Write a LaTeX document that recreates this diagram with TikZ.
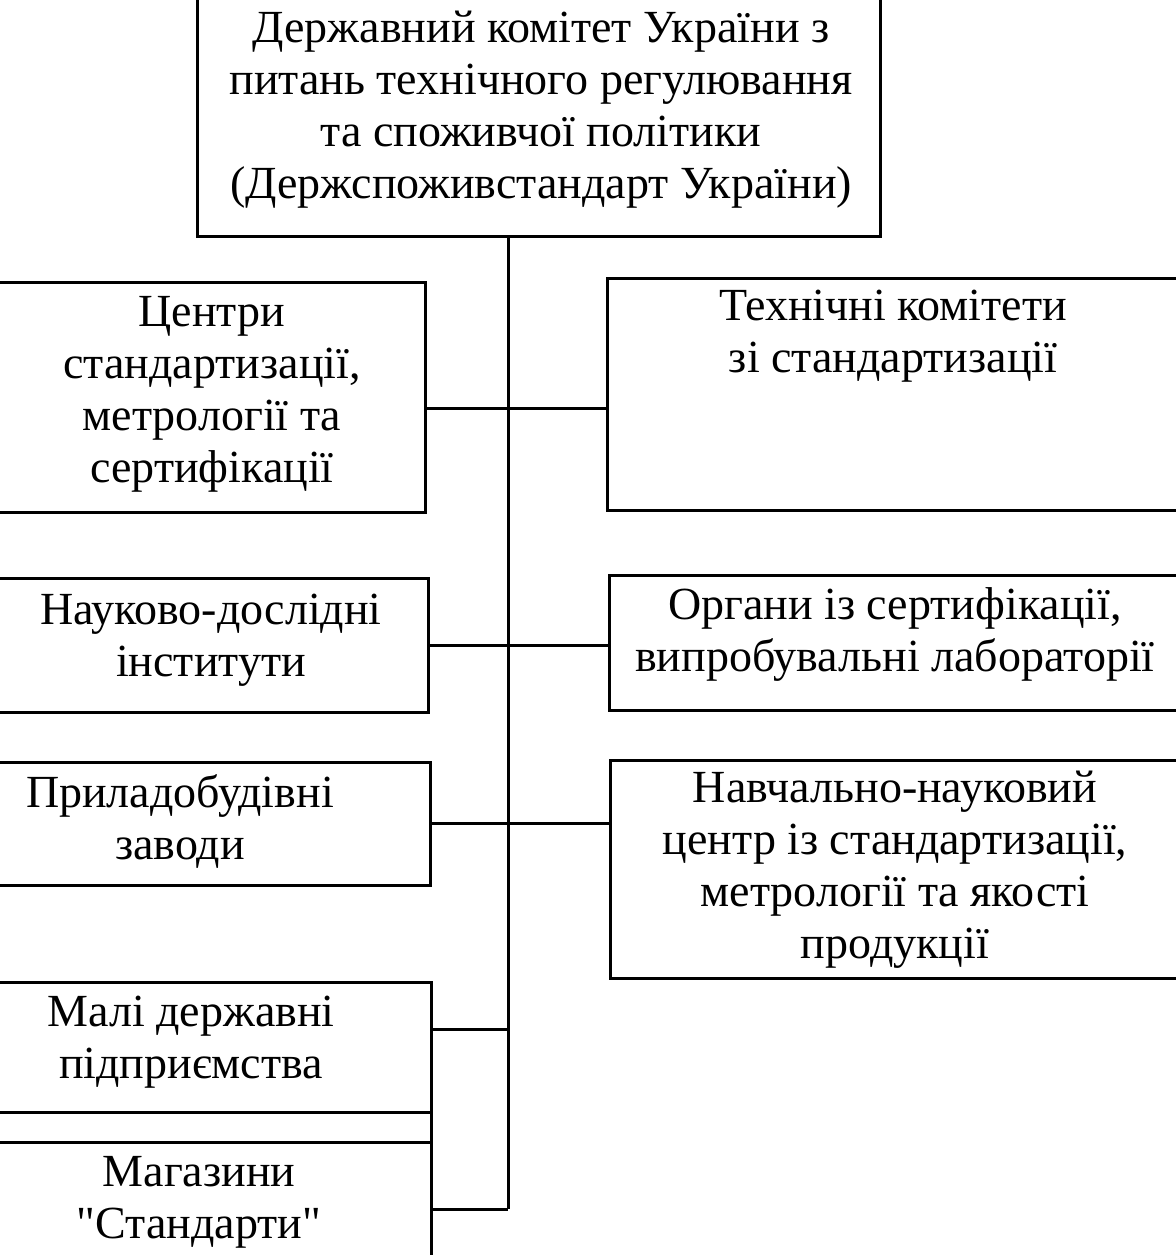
\documentclass[tikz,border=0pt]{standalone}
\usepackage{fontspec}
\setmainfont{Liberation Serif}[Ligatures=TeXOff]
\usepackage{tikz}
\usetikzlibrary{positioning}

\begin{document}
\begin{tikzpicture}[x=0.5pt, y=-0.5pt,
  unitbox/.style={draw, line width=1.5pt, inner sep=0pt, outer sep=0pt,
    anchor=north west},
  unittext/.style={align=center, inner sep=0pt,
    font=\fontsize{23}{26}\selectfont},
  link/.style={line width=1.5pt}]
  % Page frame (the scan cuts the outer boxes at the edges)
  \useasboundingbox (0,0) rectangle (1176,1255);

  % Head office
  \node[unitbox, minimum width=341.5pt, minimum height=119pt] (head) at (197,-2) {};
  \node[unittext] (headtxt) at (541,110)
    {Державний комітет України з\\питань технічного регулювання\\та споживчої політики\\(Держспоживстандарт України)};

  % Left column
  \node[unitbox, minimum width=215pt, minimum height=115pt] (centres) at (-5,282) {};
  \node[unittext] (centrestxt) at (212,394)
    {Центри\\стандартизації,\\метрології та\\сертифікації};

  \node[unitbox, minimum width=216.5pt, minimum height=67pt] (institutes) at (-5,578) {};
  \node[unittext] (institutestxt) at (211,640)
    {Науково-дослідні\\інститути};

  \node[unitbox, minimum width=217.5pt, minimum height=61.5pt] (plants) at (-5,762) {};
  \node[unittext] (plantstxt) at (180,821)
    {Приладобудівні\\заводи};

  \node[unitbox, minimum width=218pt, minimum height=65pt] (firms) at (-5,982) {};
  \node[unittext] (firmstxt) at (191,1042)
    {Малі державні\\підприємства};

  \node[unitbox, minimum width=218pt, minimum height=60pt] (shops) at (-5,1142) {};
  \node[unittext] (shopstxt) at (199,1202)
    {Магазини\\"Стандарти"};

  % Right column
  \node[unitbox, minimum width=287pt, minimum height=116pt] (committees) at (607,278) {};
  \node[unittext] (committeestxt) at (893,336)
    {Технічні комітети\\зі стандартизації};

  \node[unitbox, minimum width=286pt, minimum height=67.5pt] (bodies) at (609,575) {};
  \node[unittext] (bodiestxt) at (895,634)
    {Органи із сертифікації,\\випробувальні лабораторії};

  \node[unitbox, minimum width=285.5pt, minimum height=109pt] (training) at (610,760) {};
  \node[unittext] (trainingtxt) at (895,870)
    {Навчально-науковий\\центр із стандартизації,\\метрології та якості\\продукції};

  % Trunk
  \coordinate (trunkend) at (508,1209);
  \draw[link] (head.south -| trunkend) -- (trunkend);

  % Branches
  \draw[link] (centres.east |- 0,408) -- (committees.west |- 0,408);
  \draw[link] (institutes.east) -- (bodies.west |- institutes.east);
  \draw[link] (plants.east) -- (training.west |- plants.east);
  \draw[link] (firms.east |- 0,1029) -- (trunkend |- 0,1029);
  \draw[link] (shops.east |- trunkend) -- (trunkend);
  \draw[link] (firms.south east) -- (shops.north east);
\end{tikzpicture}
\end{document}
